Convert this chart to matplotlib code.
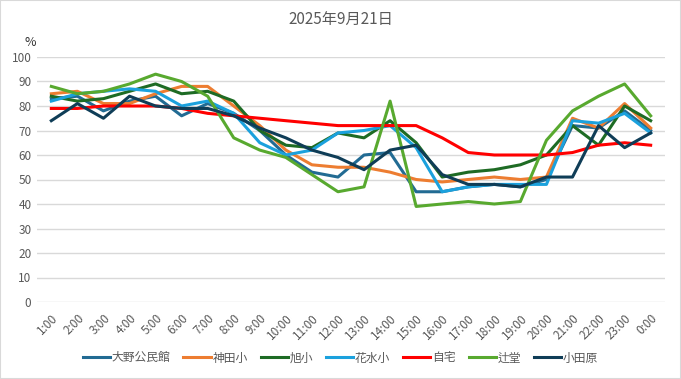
import matplotlib.pyplot as plt
from matplotlib.patches import Rectangle

plt.rcParams['font.family'] = ['Noto Sans CJK JP', 'DejaVu Sans']

hours = ['1:00', '2:00', '3:00', '4:00', '5:00', '6:00', '7:00', '8:00', '9:00', '10:00',
         '11:00', '12:00', '13:00', '14:00', '15:00', '16:00', '17:00', '18:00', '19:00',
         '20:00', '21:00', '22:00', '23:00', '0:00']

ono = [83, 84, 78, 82, 84, 76, 81, 77, 70, 60, 53, 51, 60, 61, 45, 45, 47, 48, 47, 50, 72, 71, 78, 70]
kanda = [85, 86, 81, 81, 85, 88, 88, 80, 72, 62, 56, 55, 55, 53, 50, 49, 50, 51, 50, 51, 75, 71, 81, 71]
asahi = [84, 82, 83, 86, 89, 85, 86, 82, 70, 64, 63, 69, 67, 74, 65, 51, 53, 54, 56, 60, 72, 64, 80, 74]
hanamizu = [82, 85, 86, 87, 86, 80, 82, 77, 65, 60, 62, 69, 70, 72, 63, 45, 47, 48, 48, 48, 74, 73, 77, 69]
jitaku = [79, 79, 80, 80, 80, 79, 77, 76, 75, 74, 73, 72, 72, 72, 72, 67, 61, 60, 60, 60, 61, 64, 65, 64]
tsujido = [88, 85, 86, 89, 93, 90, 84, 67, 62, 59, 52, 45, 47, 82, 39, 40, 41, 40, 41, 66, 78, 84, 89, 76]
odawara = [74, 81, 75, 84, 80, 79, 79, 76, 71, 67, 62, 59, 54, 62, 64, 52, 48, 48, 47, 51, 51, 72, 63, 69]

series = [
    ('大野公民館', ono, '#226b93'),
    ('神田小', kanda, '#ed7d31'),
    ('旭小', asahi, '#1e6b24'),
    ('花水小', hanamizu, '#1ba1dd'),
    ('自宅', jitaku, '#ff0000'),
    ('辻堂', tsujido, '#58a92f'),
    ('小田原', odawara, '#0f3d57'),
]

fig = plt.figure(figsize=(6.81, 3.79), dpi=100)
ax = fig.add_axes([37 / 681, 1 - 302 / 379, 628 / 681, 245 / 379])

x = range(len(hours))
for name, vals, col in series:
    ax.plot(x, vals, color=col, lw=2.2, label=name)

ax.set_xlim(-0.55, len(hours) - 0.45)
ax.set_ylim(0, 100)
ax.set_yticks(range(0, 101, 10))
ax.set_xticks(list(x))
ax.set_xticklabels(hours, rotation=45, ha='right', rotation_mode='anchor')
ax.tick_params(axis='both', length=0, labelsize=8.5, colors='#595959', pad=4)
ax.tick_params(axis='x', pad=7)
ax.grid(axis='y', color='#d9d9d9', lw=1)
ax.set_axisbelow(True)
for s in ax.spines.values():
    s.set_visible(False)

ax.text(-0.01, 1.045, '%', transform=ax.transAxes, fontsize=9, color='#333333', ha='center')
fig.text(0.5, 0.95, '2025年9月21日', ha='center', va='center', fontsize=11, color='#595959')

fig.legend(loc='center', bbox_to_anchor=(0.5, 1 - 358 / 379), ncol=7, frameon=False,
           fontsize=8.5, handlelength=2.3, columnspacing=1.1, handletextpad=0.15,
           labelcolor='#595959')

fig.patches.append(Rectangle((0, 0), 1, 1, transform=fig.transFigure, fill=False,
                             edgecolor='#d9d9d9', lw=1.5))

fig.savefig('out.png', dpi=100)
